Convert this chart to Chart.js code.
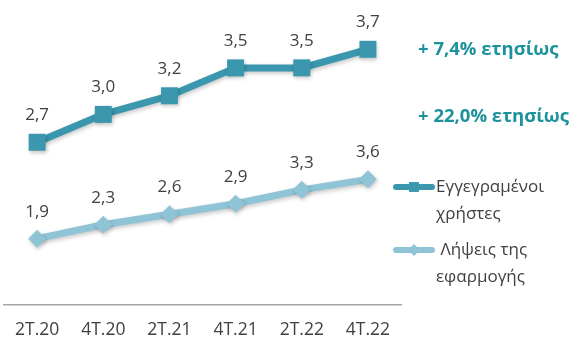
<!DOCTYPE html>
<html>
<head>
<meta charset="utf-8">
<script src="https://cdn.jsdelivr.net/npm/chart.js@4/dist/chart.umd.min.js"></script>
<style>
  html, body { margin: 0; padding: 0; background: #fff; overflow: hidden; }
  #wrap { position: relative; width: 573px; height: 356px; }
</style>
</head>
<body>
<div id="wrap"><canvas id="users" width="573" height="356"></canvas></div>
<script>
const quarters = ['2Τ.20', '4Τ.20', '2Τ.21', '4Τ.21', '2Τ.22', '4Τ.22'];
const registeredUsers = [2.7, 3.0, 3.2, 3.5, 3.5, 3.7];
const appDownloads = [1.9, 2.3, 2.6, 2.9, 3.3, 3.6];
const seriesNames = ['Εγγεγραμένοι\nχρήστες', ' Λήψεις της\nεφαρμογής'];
const growthNotes = ['+ 7,4% ετησίως', '+ 22,0% ετησίως'];

const FONT = '"Open Sans", "DejaVu Sans", sans-serif';
const TEXT = '#404040';
const DARK = '#3a97ad';
const LIGHT = '#8fc3d6';
const NOTE = '#1c929c';

// soft drop shadow under each line
const lineShadow = {
  id: 'lineShadow',
  beforeDatasetDraw(chart) {
    const ctx = chart.ctx;
    ctx.save();
    ctx.shadowColor = 'rgba(0,0,0,0.22)';
    ctx.shadowBlur = 4;
    ctx.shadowOffsetX = 1;
    ctx.shadowOffsetY = 2;
  },
  afterDatasetDraw(chart) {
    chart.ctx.restore();
  }
};

// value above every point, greek decimal comma
const valueLabels = {
  id: 'valueLabels',
  afterDatasetsDraw(chart) {
    const ctx = chart.ctx;
    ctx.save();
    ctx.font = '17px ' + FONT;
    ctx.fillStyle = TEXT;
    ctx.textAlign = 'center';
    ctx.textBaseline = 'middle';
    chart.data.datasets.forEach((ds, i) => {
      chart.getDatasetMeta(i).data.forEach((pt, j) => {
        ctx.fillText(ds.data[j].toFixed(1).replace('.', ','), pt.x, pt.y - 27);
      });
    });
    ctx.restore();
  }
};

// legend on the right plus the yearly growth notes
const sidePanel = {
  id: 'sidePanel',
  afterDraw(chart) {
    const ctx = chart.ctx;
    const rows = [187, 250];
    const sizes = [7, 6];
    ctx.save();
    chart.data.datasets.forEach((ds, i) => {
      const y = rows[i];
      ctx.strokeStyle = ds.borderColor;
      ctx.fillStyle = ds.borderColor;
      ctx.lineWidth = 6;
      ctx.lineCap = 'round';
      ctx.beginPath();
      ctx.moveTo(396, y);
      ctx.lineTo(432, y);
      ctx.stroke();
      Chart.helpers.drawPoint(ctx, { pointStyle: ds.pointStyle, radius: sizes[i], borderWidth: 0, rotation: 0 }, 414, y);
      ctx.fillStyle = TEXT;
      ctx.font = '17px ' + FONT;
      ctx.textAlign = 'left';
      ctx.textBaseline = 'middle';
      ds.label.split('\n').forEach((line, k) => {
        ctx.fillText(line, 436, y + k * 27);
      });
    });

    ctx.fillStyle = NOTE;
    ctx.font = 'bold 18.5px ' + FONT;
    ctx.textAlign = 'left';
    ctx.textBaseline = 'middle';
    ctx.fillText(growthNotes[0], 418, 50);
    ctx.fillText(growthNotes[1], 418, 117);
    ctx.restore();
  }
};

new Chart(document.getElementById('users'), {
  type: 'line',
  data: {
    labels: quarters,
    datasets: [{
      label: seriesNames[0],
      data: registeredUsers,
      yAxisID: 'y1',
      borderColor: DARK,
      backgroundColor: DARK,
      borderWidth: 7,
      pointStyle: 'rect',
      pointRadius: 12,
      pointBorderWidth: 0,
      pointBackgroundColor: DARK
    }, {
      label: seriesNames[1],
      data: appDownloads,
      yAxisID: 'y2',
      borderColor: LIGHT,
      backgroundColor: LIGHT,
      borderWidth: 7,
      pointStyle: 'rectRot',
      pointRadius: 9,
      pointBorderWidth: 0,
      pointBackgroundColor: LIGHT
    }]
  },
  options: {
    responsive: false,
    devicePixelRatio: 1,
    animation: false,
    layout: { autoPadding: false, padding: { left: 0, right: 172, top: 0, bottom: 0 } },
    plugins: {
      legend: { display: false },
      tooltip: { enabled: false }
    },
    scales: {
      x: {
        offset: true,
        grid: { display: false, drawTicks: false },
        border: { display: true, color: '#a6a6a6', width: 1.5 },
        ticks: { color: TEXT, font: { size: 17.5, family: FONT }, padding: 15, maxRotation: 0, autoSkip: false }
      },
      y1: { display: false, min: 0.95, max: 4.23 },
      y2: { display: false, min: 0, max: 8.74 }
    }
  },
  plugins: [lineShadow, valueLabels, sidePanel]
});
</script>
</body>
</html>
